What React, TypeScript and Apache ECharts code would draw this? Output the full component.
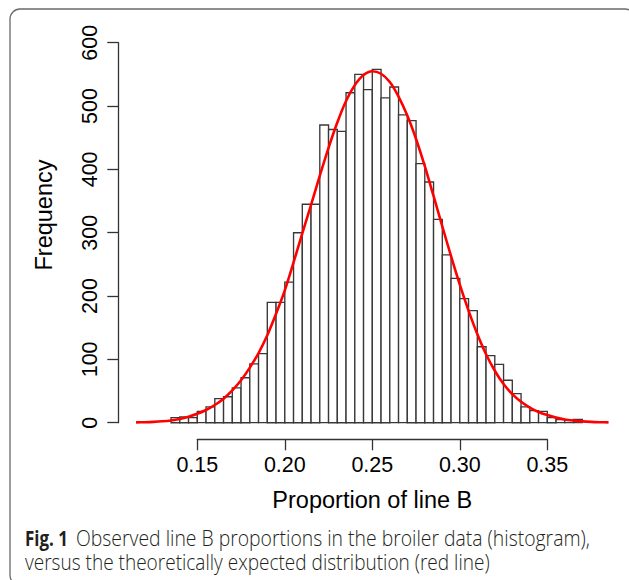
import React, { useEffect, useRef } from "react";
import * as echarts from "echarts";

// Histogram: bin lower edges start at BIN_START, each BIN_WIDTH wide
const BIN_START = 0.135;
const BIN_WIDTH = 0.005;
const COUNTS = [
  8, 9, 8, 18, 25, 38, 41, 55, 71, 93, 109, 190, 190, 222, 300, 345, 345,
  470, 463, 460, 521, 550, 526, 558, 513, 530, 486, 477, 409, 380, 321, 265,
  228, 196, 177, 120, 106, 92, 67, 46, 25, 19, 18, 8, 5, 4, 5,
];

// Theoretical curve (red), sampled every CURVE_STEP from CURVE_START
const CURVE_START = 0.115;
const CURVE_STEP = 0.005;
const CURVE_Y = [
  0.5, 0.8, 1.3, 2.2, 3.6, 6, 9.5, 14, 20, 28, 38, 51, 67, 87, 110, 138, 172,
  209, 253, 299, 344, 390, 434, 474, 508, 533, 549, 555, 551, 538, 515, 485,
  448, 405, 358, 310, 263, 218, 177, 140, 108, 82, 61, 45, 33, 24, 17, 12, 8,
  5, 3.3, 2.1, 1.3, 0.8, 0.5,
];

const X_TICKS = [0.15, 0.2, 0.25, 0.3, 0.35];
const Y_TICKS = [0, 100, 200, 300, 400, 500, 600];

const X_TITLE = "Proportion of line B";
const Y_TITLE = "Frequency";
const CAP_BOLD = "Fig. 1";
const CAP_LINE1 = "Observed line B proportions in the broiler data (histogram),";
const CAP_LINE2 = "versus the theoretically expected distribution (red line)";

const AXIS_FONT = "'Liberation Sans', Arial, Helvetica, sans-serif";
const CAP_FONT = "'Open Sans', 'Noto Sans', sans-serif";

function measure(text: string, font: string): number {
  const c = document.createElement("canvas");
  const ctx = c.getContext("2d");
  if (!ctx) return text.length * 10;
  ctx.font = font;
  return ctx.measureText(text).width;
}

export default function App() {
  const ref = useRef<HTMLDivElement>(null);

  useEffect(() => {
    if (!ref.current) return;
    const chart = echarts.init(ref.current, null, { renderer: "svg" });

    // pixel mapping of the reference: 0.15 -> 197.3px, 1 unit = 1750px
    const PX015 = 197.3;
    const PXU = 1750;
    const xMin = 0.105;
    const xMax = 0.395;
    const plotLeft = PX015 - (0.15 - xMin) * PXU;
    const plotWidth = (xMax - xMin) * PXU;
    const plotTop = 42.7;
    const plotHeight = 380;

    const histData = COUNTS.map((c, i) => [
      BIN_START + i * BIN_WIDTH,
      BIN_START + (i + 1) * BIN_WIDTH,
      c,
    ]);
    const curveData = CURVE_Y.map((v, i) => [CURVE_START + i * CURVE_STEP, v]);

    const capSize = 22;
    const boldW = measure(CAP_BOLD, `bold ${capSize}px ${CAP_FONT}`);
    const l1W = measure(CAP_LINE1, `300 ${capSize}px ${CAP_FONT}`);
    const l2W = measure(CAP_LINE2, `300 ${capSize}px ${CAP_FONT}`);

    const axisLineStyle = { color: "#333", width: 1.3 };

    chart.setOption({
      animation: false,
      backgroundColor: "#ffffff",
      grid: [
        { left: plotLeft, top: plotTop, width: plotWidth, height: plotHeight },
        { left: PX015, top: plotTop, width: 0.2 * PXU, height: 396.6 },
        { left: 118.3, top: plotTop, width: 100, height: plotHeight },
      ],
      xAxis: [
        { gridIndex: 0, type: "value", min: xMin, max: xMax, show: false },
        {
          gridIndex: 1,
          type: "value",
          min: X_TICKS[0],
          max: X_TICKS[X_TICKS.length - 1],
          interval: 0.05,
          position: "bottom",
          axisLine: { show: true, lineStyle: axisLineStyle },
          axisTick: { show: true, length: 11, lineStyle: axisLineStyle },
          splitLine: { show: false },
          axisLabel: {
            fontFamily: AXIS_FONT,
            fontSize: 21.5,
            color: "#000",
            margin: 15,
            formatter: (v: number) => v.toFixed(2),
          },
        },
        { gridIndex: 2, type: "value", min: 0, max: 1, show: false },
      ],
      yAxis: [
        { gridIndex: 0, type: "value", min: 0, max: 600, show: false },
        { gridIndex: 1, type: "value", min: 0, max: 1, show: false },
        {
          gridIndex: 2,
          type: "value",
          min: Y_TICKS[0],
          max: Y_TICKS[Y_TICKS.length - 1],
          interval: 100,
          position: "left",
          axisLine: { show: true, lineStyle: axisLineStyle },
          axisTick: { show: true, length: 11, lineStyle: axisLineStyle },
          splitLine: { show: false },
          axisLabel: {
            fontFamily: AXIS_FONT,
            fontSize: 21.5,
            color: "#000",
            rotate: 90,
            margin: 17,
          },
        },
      ],
      series: [
        {
          type: "custom",
          xAxisIndex: 0,
          yAxisIndex: 0,
          data: histData,
          encode: { x: [0, 1], y: 2 },
          renderItem: (params: any, api: any) => {
            const p0 = api.coord([api.value(0), api.value(2)]);
            const p1 = api.coord([api.value(1), 0]);
            return {
              type: "rect",
              shape: {
                x: p0[0],
                y: p0[1],
                width: p1[0] - p0[0],
                height: p1[1] - p0[1],
              },
              style: { fill: "#ffffff", stroke: "#383838", lineWidth: 1.35 },
            };
          },
          silent: true,
          z: 1,
        },
        {
          type: "line",
          xAxisIndex: 0,
          yAxisIndex: 0,
          data: curveData,
          smooth: 0.3,
          showSymbol: false,
          symbol: "none",
          lineStyle: { color: "#ff0000", width: 2.6 },
          silent: true,
          z: 3,
        },
      ],
      graphic: [
        {
          type: "rect",
          shape: { x: 10, y: 9, width: 625, height: 576, r: 10 },
          style: { fill: "none", stroke: "#6a6a6a", lineWidth: 1.3 },
          z: -1,
          silent: true,
        },
        {
          type: "text",
          x: 372.3,
          y: 500,
          style: {
            text: X_TITLE,
            font: `23.5px ${AXIS_FONT}`,
            fill: "#000",
            textAlign: "center",
            textVerticalAlign: "middle",
          },
        },
        {
          type: "text",
          x: 44,
          y: 215,
          rotation: Math.PI / 2,
          style: {
            text: Y_TITLE,
            font: `23.5px ${AXIS_FONT}`,
            fill: "#000",
            textAlign: "center",
            textVerticalAlign: "middle",
          },
        },
        {
          type: "text",
          x: 25,
          y: 538,
          scaleX: 43 / boldW,
          style: {
            text: CAP_BOLD,
            font: `bold ${capSize}px ${CAP_FONT}`,
            fill: "#231f20",
            textAlign: "left",
            textVerticalAlign: "middle",
          },
        },
        {
          type: "text",
          x: 76,
          y: 538,
          scaleX: 514 / l1W,
          style: {
            text: CAP_LINE1,
            font: `300 ${capSize}px ${CAP_FONT}`,
            fill: "#231f20",
            textAlign: "left",
            textVerticalAlign: "middle",
          },
        },
        {
          type: "text",
          x: 25,
          y: 561.5,
          scaleX: 465 / l2W,
          style: {
            text: CAP_LINE2,
            font: `300 ${capSize}px ${CAP_FONT}`,
            fill: "#231f20",
            textAlign: "left",
            textVerticalAlign: "middle",
          },
        },
      ],
    });

    return () => {
      chart.dispose();
    };
  }, []);

  return (
    <div
      ref={ref}
      style={{ position: "fixed", left: 0, top: 0, width: 629, height: 580 }}
    />
  );
}
